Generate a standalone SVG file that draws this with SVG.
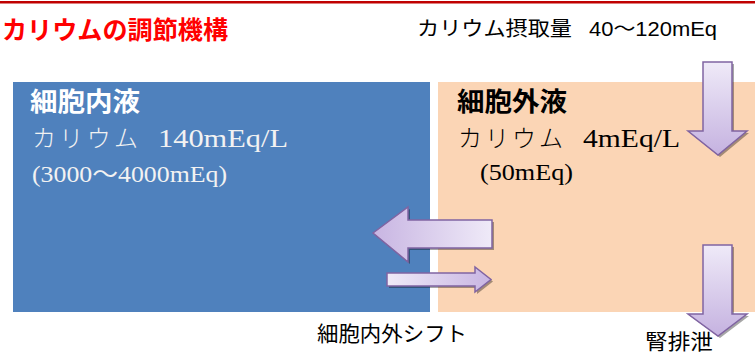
<svg xmlns="http://www.w3.org/2000/svg" width="755" height="352" viewBox="0 0 755 352">
<defs>
<linearGradient id="gDown" x1="0" y1="0" x2="0" y2="1"><stop offset="0" stop-color="#EFEAF8"/><stop offset="1" stop-color="#C5B2E0"/></linearGradient>
<linearGradient id="gLeft" x1="0" y1="0" x2="1" y2="0"><stop offset="0" stop-color="#C8B5E2"/><stop offset="1" stop-color="#EFEAF8"/></linearGradient>
<linearGradient id="gRight" x1="0" y1="0" x2="1" y2="0"><stop offset="0" stop-color="#EFEAF8"/><stop offset="1" stop-color="#C8B5E2"/></linearGradient>
</defs>
<style>
.sans{font-family:"Liberation Sans","Noto Sans CJK JP",sans-serif;}
.serif{font-family:"Liberation Serif","Noto Sans CJK JP",serif;}
.cjkb{font-family:"Noto Sans CJK JP",sans-serif;font-weight:bold;}
.arrow{stroke:#8064A2;stroke-width:1.5;stroke-linejoin:miter;}
.shadow{fill:#000;opacity:0.35;}
</style>
<rect x="0" y="0" width="755" height="352" fill="#FFFFFF"/>
<rect x="0" y="1" width="755" height="2.5" fill="#C00000"/>
<g id="title"><text class="cjkb" x="2" y="39" font-size="25" fill="#FF0000" textLength="226" lengthAdjust="spacingAndGlyphs">カリウムの調節機構</text></g>
<g id="intake-label">
<text class="sans" x="417" y="36" font-size="20" fill="#000" textLength="155" lengthAdjust="spacingAndGlyphs">カリウム摂取量</text>
<text class="sans" x="589" y="36" font-size="20" fill="#000" textLength="128" lengthAdjust="spacingAndGlyphs">40〜120mEq</text>
</g>
<g id="intracellular">
<rect x="13" y="82" width="417" height="230" fill="#4F81BD"/>
<text class="cjkb" x="30" y="111" font-size="26" fill="#FFFFFF" textLength="110" lengthAdjust="spacingAndGlyphs">細胞内液</text>
<text class="serif" x="32" y="147" font-size="24" fill="#F2F2F2" textLength="106" lengthAdjust="spacing" font-weight="300">カリウム</text>
<text class="serif" x="158" y="147" font-size="25" fill="#F2F2F2" textLength="130" lengthAdjust="spacingAndGlyphs">140mEq/L</text>
<text class="serif" x="32" y="182" font-size="23" fill="#F2F2F2" textLength="195" lengthAdjust="spacingAndGlyphs">(3000〜4000mEq)</text>
</g>
<g id="extracellular">
<rect x="438" y="82" width="317" height="230" fill="#FBD5B5"/>
<text class="cjkb" x="457" y="111" font-size="26" fill="#000000" textLength="110" lengthAdjust="spacingAndGlyphs">細胞外液</text>
<text class="serif" x="458" y="147" font-size="24" fill="#000000" textLength="105" lengthAdjust="spacing" font-weight="300">カリウム</text>
<text class="serif" x="583" y="147" font-size="25" fill="#000000" textLength="97" lengthAdjust="spacingAndGlyphs">4mEq/L</text>
<text class="serif" x="480" y="180" font-size="23" fill="#000000" textLength="93" lengthAdjust="spacingAndGlyphs">(50mEq)</text>
</g>
<g id="shift-label"><text class="sans" x="317" y="341" font-size="21" fill="#000" textLength="150" lengthAdjust="spacingAndGlyphs">細胞内外シフト</text></g>
<g id="renal-label"><text class="sans" x="645" y="349" font-size="21" fill="#000" textLength="68" lengthAdjust="spacingAndGlyphs">腎排泄</text></g>
<g id="connectors">
<g id="arrow-intake">
<polygon class="shadow" points="705,64 734,64 734,133 749,133 720,157 690,133 705,133"/>
<polygon class="arrow" fill="url(#gDown)" points="703,62 732,62 732,131 747,131 718,155 688,131 703,131"/>
</g>
<g id="arrow-renal">
<polygon class="shadow" points="705,247 734,247 734,316 749,316 720,338 690,316 705,316"/>
<polygon class="arrow" fill="url(#gDown)" points="703,245 732,245 732,314 747,314 718,336 688,314 703,314"/>
</g>
<g id="arrow-to-cell">
<polygon class="shadow" points="375,235 410,209 410,222 494,222 494,250 410,250 410,264"/>
<polygon class="arrow" fill="url(#gLeft)" points="373,233 408,207 408,220 492,220 492,248 408,248 408,262"/>
</g>
<g id="arrow-out-cell">
<polygon class="shadow" points="389,275 477,275 477,269 493,281.5 477,294 477,288 389,288"/>
<polygon class="arrow" fill="url(#gRight)" points="387,273 475,273 475,267 491,279.5 475,292 475,286 387,286"/>
</g>
</g>
</svg>
